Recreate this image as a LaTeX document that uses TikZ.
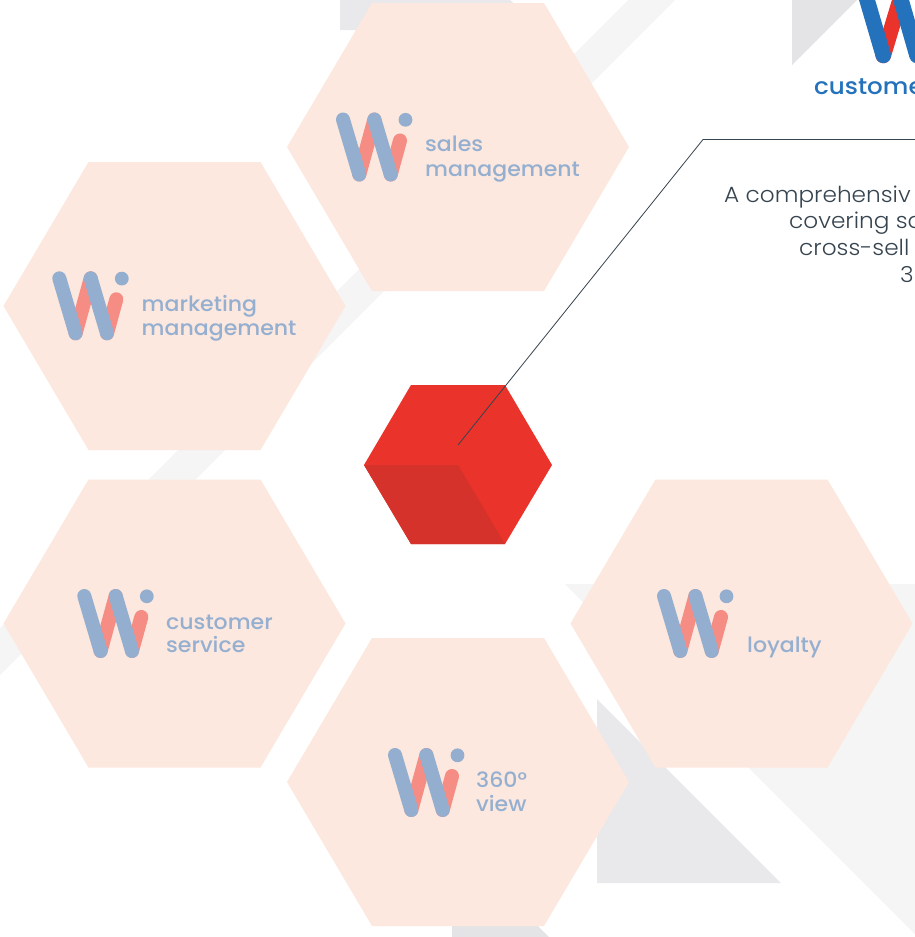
\documentclass[tikz,border=0pt]{standalone}
\usepackage{fontspec}
\newfontfamily\lblfont[FakeStretch=1.05]{Poppins Medium}
\newfontfamily\bodyfont[FakeStretch=1.055]{Poppins Light}
\newfontfamily\brandfont[FakeStretch=1.07]{Poppins Medium}
\definecolor{hexfill}{HTML}{FCE8DE}
\definecolor{wblue}{HTML}{93AECE}
\definecolor{wred}{HTML}{F68D85}
\definecolor{bandgray}{HTML}{F5F5F5}
\definecolor{trigray}{HTML}{E9E9EB}
\definecolor{trigraydk}{HTML}{E4E4E6}
\definecolor{cubered}{HTML}{EA332A}
\definecolor{cubedark}{HTML}{D5322B}
\definecolor{brandblue}{HTML}{2472BB}
\definecolor{inktext}{HTML}{36444F}
\definecolor{lblblue}{HTML}{95AFD0}
\tikzset{
  x=1pt,y=-1pt,
  lbl/.style={anchor=base west,inner sep=0pt,text=lblblue,font=\lblfont\fontsize{21}{25}\selectfont},
  body/.style={anchor=base west,inner sep=0pt,text=inktext,font=\bodyfont\fontsize{22}{26}\selectfont},
  leader/.style={draw=inktext,line width=0.8pt},
  wstroke/.style={line cap=round,line width=14pt}
}
\newcommand{\hexcell}[2]{\fill[hexfill] (#1-171,#2) -- (#1-86,#2-144) -- (#1+86,#2-144) -- (#1+171,#2) -- (#1+86,#2+144) -- (#1-86,#2+144) -- cycle;}
\newcommand{\wlogo}[2]{%
  \begin{scope}[shift={(#1,#2)}]
    \draw[wstroke,wred] (31.4,0) -- (16.3,55);
    \draw[wstroke,wred] (47.7,55) -- (57,21);
    \draw[wstroke,wblue] (0,0) -- (16.3,55);
    \draw[wstroke,wblue] (31.4,0) -- (47.7,55);
    \fill[wblue] (62.5,0.3) circle (6.9);
  \end{scope}}
\begin{document}
\begin{tikzpicture}
\useasboundingbox (0,0) rectangle (915,937);
\clip (0,0) rectangle (915,937);
\fill[white] (0,0) rectangle (915,937);
% background shapes
\fill[bandgray] (628,0) -- (675,0) -- (0,675) -- (0,628) -- cycle;
\fill[bandgray] (565,584) -- (915,584) -- (915,934) -- cycle;
\fill[trigray] (340,0) -- (340,30) -- (540,30) -- (510,0) -- cycle;
\fill[trigraydk] (792,0) -- (792,65) -- (857,0) -- cycle;
\fill[trigray] (597,699) -- (597,883) -- (781,883) -- cycle;
\fill[trigraydk] (452,920) -- (452,937) -- (549,937) -- (532,920) -- cycle;
% hexagons
\hexcell{458}{147}
\hexcell{174.5}{306}
\hexcell{174.5}{623.5}
\hexcell{458}{782}
\hexcell{741.5}{623.5}
% cube
\fill[cubered] (364,465) -- (411,385) -- (505,385) -- (552,465) -- (505,544) -- (411,544) -- cycle;
\fill[cubedark] (364,465) -- (458,465) -- (505,544) -- (411,544) -- cycle;
% logos
\wlogo{343}{119.5}
\wlogo{59.3}{278.3}
\wlogo{84.3}{596}
\wlogo{395}{755}
\wlogo{664}{596}
% large logo
\draw[line cap=round,line width=15.5pt,cubered] (883.3,55.5) -- (903,-10);
\draw[line cap=round,line width=15.5pt,brandblue] (851,-55) -- (883.3,55.5);
\draw[line cap=round,line width=15.5pt,brandblue] (901,0) -- (917,55.5);
% labels
\node[lbl] (salesA) at (425,151.7) {sales};
\node[lbl] (salesB) at (425,176) {management};
\node[lbl] (mktA) at (141.5,311.7) {marketing};
\node[lbl] (mktB) at (141.5,335) {management};
\node[lbl] (svcA) at (166,629) {customer};
\node[lbl] (svcB) at (166,652.5) {service};
\node[lbl] (viewA) at (476,787.5) {360°};
\node[lbl] (viewB) at (476,811) {view};
\node[lbl] (loy) at (747,652.5) {loyalty};
\node[anchor=base west,inner sep=0pt,text=brandblue,font=\brandfont\fontsize{23}{27}\selectfont] (brand) at (814,94) {custome};
\node[body] (bodyA) at (724,202) {A comprehensiv};
\node[body] (bodyB) at (789,228.5) {covering sa};
\node[body] (bodyC) at (799,255.5) {cross-sell};
\node[body] (bodyD) at (900,282) {3};
% leader
\coordinate (cubept) at (458,445);
\coordinate (elbow) at (703,139.5);
\coordinate (rightend) at (915,139.5);
\draw[leader] (cubept) -- (elbow) -- (rightend);
\end{tikzpicture}
\end{document}
